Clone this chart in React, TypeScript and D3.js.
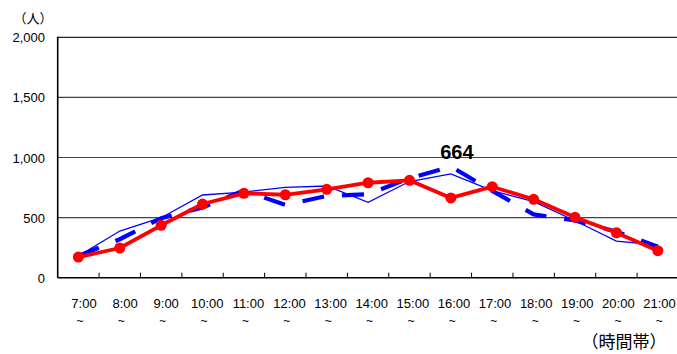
import React from "react";
import * as d3 from "d3";

const categories = ["7:00", "8:00", "9:00", "10:00", "11:00", "12:00", "13:00", "14:00", "15:00", "16:00", "17:00", "18:00", "19:00", "20:00", "21:00"];
const seriesThin = [180, 388, 499, 688, 712, 752, 763, 627, 800, 863, 724, 632, 474, 305, 272];
const seriesDashed = [180, 320, 495, 585, 725, 605, 680, 695, 827, 925, 721, 527, 476, 383, 258];
const seriesMain = [172, 247, 436, 613, 702, 690, 735, 790, 810, 664, 757, 652, 502, 374, 225];
const yTicks = [0, 500, 1000, 1500, 2000];
const highlightIndex = 9;
const yUnitLabel = "（人）";
const xUnitLabel = "（時間帯）";

const W = 677;
const H = 354;
const L = 57.7;
const R = 678.5;
const T = 37.3;
const B = 277.7;

export default function App() {
  const x = d3.scaleBand<string>().domain(categories).range([L, R]).padding(0);
  const y = d3.scaleLinear().domain([0, 2000]).range([B, T]);
  const cx = (i: number) => (x(categories[i]) as number) + x.bandwidth() / 2;
  // label positions: slightly tighter spacing than the bands, as in the reference
  const lx = d3.scaleLinear().domain([0, categories.length - 1]).range([84, 659.5]);
  const line = d3
    .line<number>()
    .x((_, i) => cx(i))
    .y((d) => y(d));
  const font = "'Liberation Sans', Arial, sans-serif";
  const cjk = "'Noto Sans CJK JP', 'Liberation Sans', sans-serif";
  const boundaries = categories.slice(1).map((c) => x(c) as number);

  return (
    <svg width={W} height={H} style={{ position: "absolute", left: 0, top: 0, background: "#fff" }}>
      <rect x={0} y={0} width={W} height={H} fill="#fff" />
      {yTicks.slice(1).map((t) => (
        <line key={"g" + t} x1={L} x2={W} y1={y(t)} y2={y(t)} stroke={t === 2000 ? "#222" : "#444"} strokeWidth={1.2} />
      ))}
      <line x1={L} x2={L} y1={T - 0.6} y2={B} stroke="#000" strokeWidth={1.6} />
      <line x1={L} x2={W} y1={B} y2={B} stroke="#000" strokeWidth={1.6} />
      {boundaries.map((bx, i) => (
        <line key={"t" + i} x1={bx} x2={bx} y1={B} y2={B - 5} stroke="#000" strokeWidth={1} />
      ))}
      {yTicks.map((t) => (
        <text key={"yl" + t} x={45} y={y(t) + 5} fontSize={13} fontFamily={font} textAnchor="end" fill="#000">
          {d3.format(",")(t)}
        </text>
      ))}
      <text x={33} y={23} fontSize={13} fontFamily={cjk} textAnchor="middle" fill="#000">
        {yUnitLabel}
      </text>
      {categories.map((c, i) => (
        <g key={"xl" + c}>
          <text x={lx(i)} y={307.5} fontSize={13} fontFamily={font} textAnchor="middle" fill="#000">
            {c}
          </text>
          <text x={cx(i) + 1.5} y={325} fontSize={12} fontFamily={font} textAnchor="middle" fill="#000">
            ~
          </text>
        </g>
      ))}
      <text x={624} y={348} fontSize={17} fontFamily={cjk} textAnchor="middle" fill="#000">
        {xUnitLabel}
      </text>
      <path d={line(seriesThin) as string} fill="none" stroke="#0000ff" strokeWidth={1.3} />
      <path d={line(seriesDashed) as string} fill="none" stroke="#0000ff" strokeWidth={4.2} strokeDasharray="22,18" />
      <path d={line(seriesMain) as string} fill="none" stroke="#ff0000" strokeWidth={3.8} strokeLinejoin="round" />
      {seriesMain.map((v, i) => (
        <circle key={"m" + i} cx={cx(i)} cy={y(v)} r={5.5} fill="#ff0000" />
      ))}
      <text x={cx(highlightIndex) + 6} y={159} fontSize={20} fontWeight="bold" fontFamily={font} textAnchor="middle" fill="#000">
        {d3.format(",")(seriesMain[highlightIndex])}
      </text>
    </svg>
  );
}
